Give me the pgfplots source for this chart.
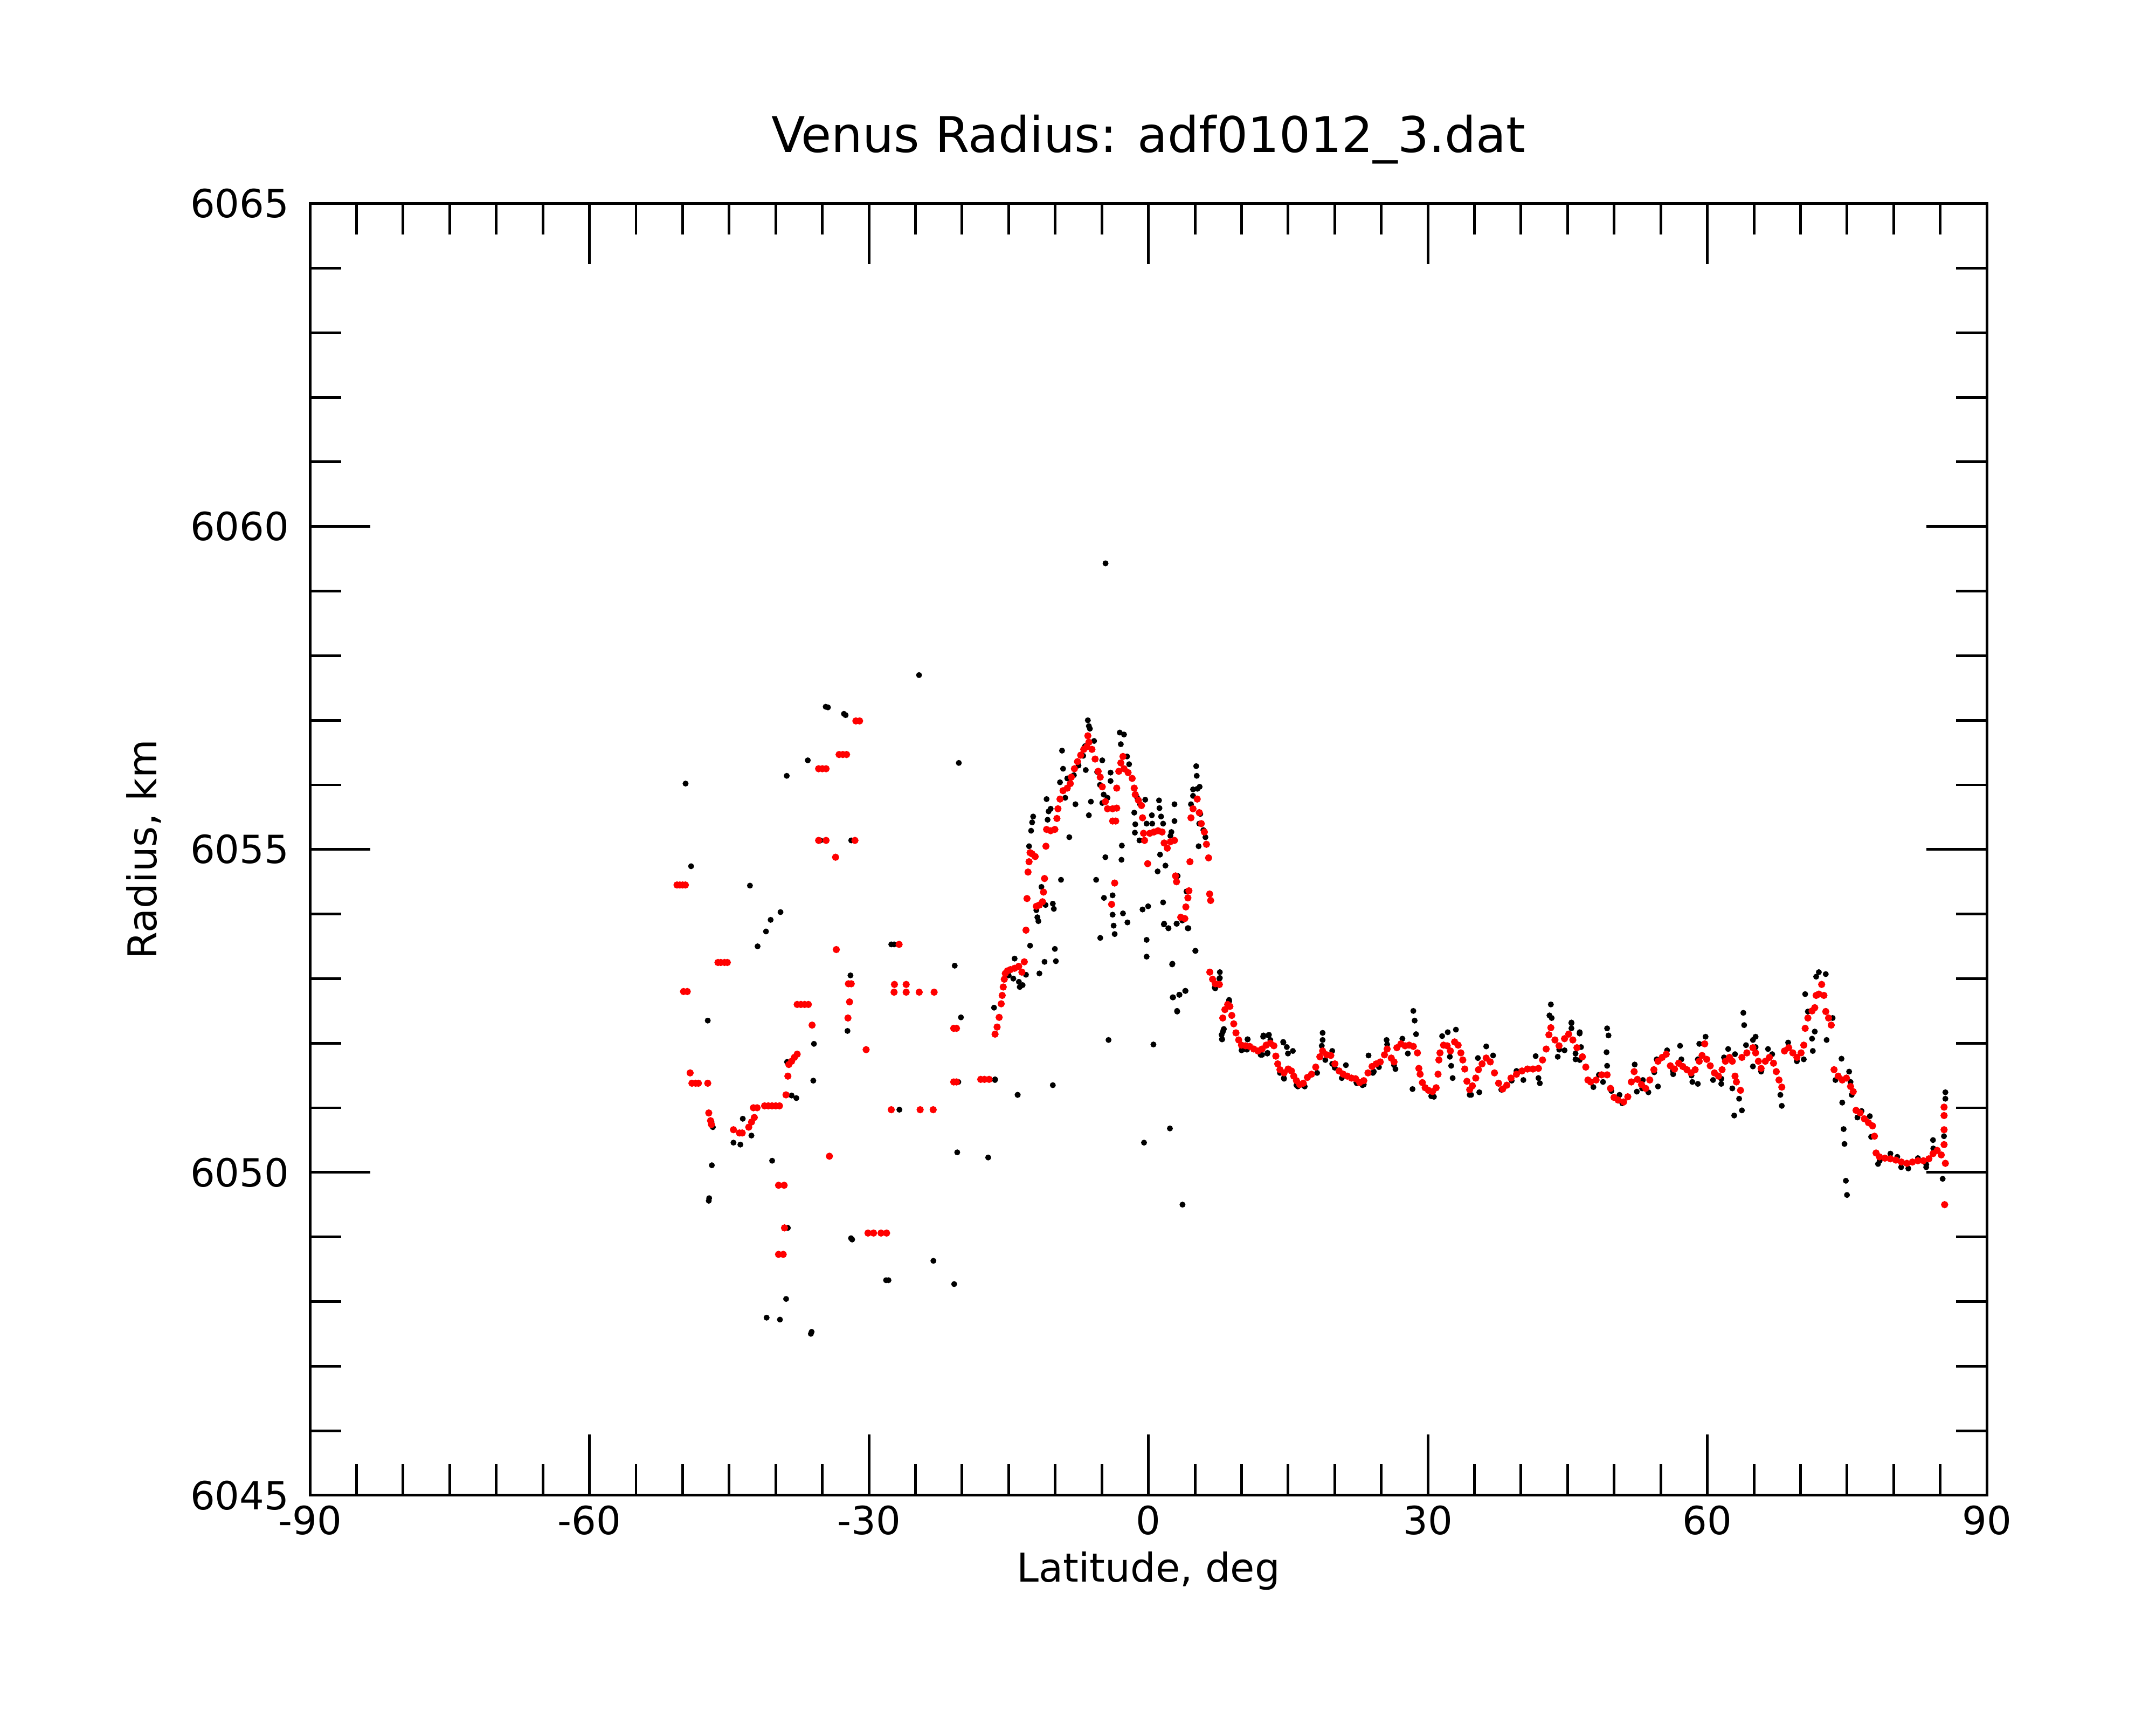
\documentclass[border=0pt]{standalone}
\usepackage{fontspec}
\setmainfont{DejaVu Sans}
\usepackage{pgfplots}
\pgfplotsset{compat=1.18}
\begin{document}
\begin{tikzpicture}
\begin{axis}[
  at={(103.9pt,77.0pt)}, anchor=south west,
  width=562.1pt, height=432.9pt, scale only axis,
  xmin=-90, xmax=90, ymin=6045, ymax=6065,
  xtick={-90,-60,-30,0,30,60,90},
  ytick={6045,6050,6055,6060,6065},
  minor x tick num=5, minor y tick num=4,
  tick align=inside, tick pos=both,
  major tick length=20.3pt, minor tick length=10.4pt,
  every tick/.style={black, line width=0.9pt},
  axis line style={line width=0.9pt},
  tick label style={font=\fontsize{13}{15}\selectfont},
  yticklabel style={xshift=-3.5pt},
  /pgf/number format/assume math mode=true,
  /pgf/number format/1000 sep={},
  title={Venus Radius: adf01012\_3.dat},
  every axis title/.style={at={(axis description cs:0.5,1.03996)}, anchor=base, inner sep=0pt, font=\fontsize{16.5}{19}\selectfont},
  xlabel={Latitude, deg},
  xlabel style={at={(axis description cs:0.5,-0.06722)}, anchor=base, inner sep=0pt, font=\fontsize{13.3}{16}\selectfont},
  ylabel={Radius, km},
  ylabel style={at={(axis description cs:-0.0916,0.5)}, anchor=base, rotate=0, inner sep=0pt, font=\fontsize{13.3}{16}\selectfont},
]
% black series
\addplot[color=black, only marks, mark=*, mark size=0.78pt, mark options={solid, draw=none, fill=black}] coordinates {
(-49.68,6056.02) (-49.09,6054.74) (-47.3,6052.35) (-46.86,6050.11) (-47.19,6049.56) (-47.15,6049.60)
(-46.9,6050.78) (-46.75,6050.70) (-44.54,6050.46) (-43.8,6050.43) (-43.54,6050.83) (-42.61,6050.57)
(-42.77,6054.44) (-41.95,6053.50) (-41.05,6053.73) (-40.55,6053.91) (-39.49,6054.03) (-40.39,6050.18)
(-40.98,6047.75) (-39.55,6047.72) (-38.89,6048.04) (-38.7,6049.14) (-38.79,6051.71) (-37.79,6051.15)
(-38.3,6051.19) (-35.9,6051.99) (-35.97,6051.42) (-38.82,6056.14) (-36.56,6056.38) (-36.23,6047.50)
(-36.15,6047.53) (-34.64,6057.21) (-34.4,6057.20) (-32.68,6057.10) (-32.5,6057.08) (-35.2,6055.14)
(-31.9,6055.14) (-31.98,6053.05) (-32.3,6052.19) (-31.92,6048.98) (-31.8,6048.96) (-27.6,6053.53)
(-27.3,6053.53) (-26.73,6050.97) (-28.16,6048.33) (-27.9,6048.33) (-23.08,6048.63) (-24.62,6057.70)
(-20.35,6056.34) (-20.79,6053.20) (-20.12,6052.40) (-20.52,6050.31) (-20.85,6048.27) (-20.4,6051.40)
(-17.2,6050.23) (-16.47,6051.43) (-14.04,6051.20)
(-6.5,6057.0) (-6.39,6056.91) (-6.28,6056.87) (-5.83,6056.68) (-9.27,6056.53) (-3.07,6056.81)
(-2.62,6056.78) (-2.96,6056.63) (-2.29,6056.44) (-4.95,6056.38) (-4.06,6056.19) (-4.06,6056.06)
(-2.07,6056.32) (-9.16,6056.25) (-8.71,6056.10) (-9.49,6056.04) (-6.72,6056.23) (-7.83,6055.70)
(-6.17,6055.74) (-6.39,6055.53) (-4.95,6055.72) (-4.39,6055.80) (-8.93,6055.80) (-10.93,6055.78)
(-10.71,6055.59) (-10.82,6055.46) (-10.49,6055.63) (-12.37,6055.51) (-12.48,6055.42) (-12.59,6055.29)
(-12.81,6055.05) (-8.49,6055.19) (-5.61,6054.53) (-4.62,6054.88) (-2.85,6055.06) (-2.89,6054.84)
(-9.38,6054.53) (-11.48,6054.42) (-10.26,6054.16) (-10.15,6054.08) (-12.03,6054.06) (-11.92,6053.95)
(-11.81,6053.89) (-11.04,6054.14) (-12.7,6053.51) (-10.04,6053.46) (-9.93,6053.27) (-11.15,6053.26)
(-11.7,6053.08) (-14.36,6053.31) (-13.81,6052.87) (-13.14,6053.06) (-16.57,6052.55) (-14.03,6051.20)
(-10.26,6051.35) (-16.46,6051.44) (-5.17,6053.63) (-3.84,6053.99) (-3.73,6053.82) (-3.62,6053.69)
(-2.73,6054.01) (-2.25,6053.87) (-3.84,6054.29) (-4.77,6054.25) (-0.19,6053.60) (-0.19,6053.34)
(-0.63,6054.07) (-0.03,6054.12) (-4.28,6052.05) (0.54,6051.98) (1.69,6053.85) (2.14,6053.78)
(3.02,6053.85) (4.24,6053.78) (3.95,6052.81) (3.31,6052.75) (2.65,6052.71) (3.09,6052.49)
(2.58,6053.23) (5.06,6053.43) (0.99,6054.66) (1.25,6054.92) (1.83,6054.75) (3.14,6054.59)
(1.58,6054.18) (-0.19,6055.40) (-0.96,6055.14) (-1.45,6055.26) (-1.41,6055.39) (-1.52,6055.57)
(-0.34,6055.77) (0.37,6055.53) (0.41,6055.40) (1.14,6055.76) (1.19,6055.64) (1.36,6055.51)
(1.58,6055.40) (2.8,6055.70) (2.8,6055.44) (2.47,6055.27) (2.36,6055.21) (5.13,6056.29)
(5.19,6056.14) (4.79,6055.93) (5.26,6055.94) (4.79,6055.83) (4.57,6055.70) (5.5,6055.97)
(5.57,6055.55) (5.46,6055.40) (5.9,6055.30) (6.12,6055.19) (5.39,6055.05) (4.09,6054.35)
(4.29,6053.78) (7.12,6052.86) (7.67,6053.10) (7.67,6053.01) (7.89,6052.06) (8.0,6052.18)
(8.1,6052.22) (8.67,6052.65) (10.66,6052.06) (12.32,6052.10) (12.88,6052.12) (12.77,6051.84)
(14.49,6052.01) (14.54,6051.46) (14.98,6051.84)
(-15.0,6053.05) (-14.5,6053.0) (-13.9,6052.95) (-13.5,6052.9)
(-8.0,6056.15) (-7.5,6056.3) (-7.0,6056.45) (-6.8,6056.6) (-5.5,6056.2) (-5.2,6056.0) (-4.8,6055.85)
(-1.2,6055.8) (-0.9,6055.7)
(-4.60,6059.43) (-0.47,6050.46) (3.66,6049.50)
(1.66,6053.84) (2.16,6053.78) (3.05,6053.85) (3.64,6053.90) (4.23,6053.78) (5.03,6053.43)
(2.55,6053.22) (2.61,6052.71) (3.34,6052.75) (3.99,6052.81) (3.08,6052.50) (2.31,6050.68)
(7.62,6053.00) (7.62,6052.90) (7.18,6052.85) (8.07,6052.21) (7.86,6052.13) (7.92,6052.06)
(8.66,6052.67) (10.28,6051.91) (10.64,6052.06) (12.35,6052.12) (12.94,6052.13) (13.09,6052.05)
(12.79,6051.85) (12.05,6051.82) (14.47,6052.02) (14.86,6051.94) (15.51,6051.88) (14.56,6051.45)
(14.12,6051.54) (15.89,6051.35) (16.63,6051.35) (18.11,6051.54) (18.7,6052.16) (18.7,6052.05)
(18.61,6051.96) (18.99,6051.74) (19.73,6051.88) (19.73,6051.68) (21.2,6051.66) (20.76,6051.46)
(22.33,6051.39) (22.98,6051.35) (23.63,6051.81) (24.1,6051.54) (24.75,6051.63) (25.57,6052.05)
(25.63,6051.98) (26.52,6051.60) (27.26,6052.07) (27.85,6051.84) (28.44,6052.50) (28.58,6052.35)
(28.73,6052.14) (28.35,6051.29) (30.65,6051.17) (31.53,6052.11) (32.13,6052.17) (33.01,6052.21)
(32.36,6051.79) (32.66,6051.46) (32.5,6051.65) (34.64,6051.20) (35.52,6051.24) (35.37,6051.77)
(36.26,6051.95) (37.0,6051.81) (39.51,6051.57) (40.25,6051.43) (41.57,6051.80) (42.02,6051.38)
(43.2,6052.60) (43.29,6052.39) (43.05,6052.43) (43.94,6051.79) (44.67,6051.89) (45.41,6052.31)
(46.3,6052.17) (45.85,6051.84) (46.3,6051.74)
(10.0,6051.89) (10.58,6051.90) (12.2,6051.82) (16.04,6051.33) (16.78,6051.33) (20.0,6051.62)
(22.38,6051.38) (23.12,6051.36) (24.2,6051.56) (26.37,6051.66) (30.36,6051.18) (34.49,6051.20)
(37.88,6051.28) (39.0,6051.42) (41.87,6051.46) (44.1,6051.90)
(45.41,6052.32) (45.41,6052.23) (46.29,6052.15) (45.85,6051.75) (46.44,6051.94) (47.77,6051.32)
(48.36,6051.51) (48.8,6051.40) (49.24,6052.23) (49.39,6052.12) (49.18,6051.86) (49.24,6051.65)
(50.57,6051.20) (50.87,6051.07) (52.2,6051.67) (52.43,6051.25) (53.08,6051.43) (53.67,6051.24)
(54.56,6051.75) (54.7,6051.33) (55.68,6051.89) (56.33,6051.52) (57.07,6051.96) (57.21,6051.75)
(58.39,6051.40) (58.98,6051.37) (59.13,6051.99) (59.81,6052.10) (58.98,6051.75) (60.61,6051.43)
(61.49,6051.37) (61.79,6051.78) (62.23,6051.91) (62.97,6051.83) (62.68,6051.30) (63.41,6051.14)
(63.71,6050.96) (62.88,6050.88) (63.86,6052.47) (63.95,6052.28) (64.15,6051.97) (64.89,6052.05)
(65.18,6052.10) (65.18,6051.94) (64.89,6051.64) (65.77,6051.56) (66.51,6051.91) (66.96,6051.83)
(67.84,6051.20) (67.99,6051.03) (68.67,6052.01) (69.61,6051.72) (70.35,6051.75) (70.5,6052.76)
(70.79,6052.49) (71.24,6052.07) (71.32,6051.88) (71.53,6052.18) (71.68,6053.03) (71.97,6053.10)
(72.71,6053.07) (72.71,6052.50) (73.45,6052.39) (72.8,6052.05) (74.4,6051.76) (73.75,6051.43)
(75.22,6051.56) (75.37,6051.40) (74.48,6051.08) (74.63,6050.67) (74.72,6050.44) (74.87,6049.87)
(74.99,6049.65) (76.11,6050.85) (76.55,6050.95) (77.44,6050.87) (77.58,6050.55) (78.32,6050.13)
(79.65,6050.29) (80.39,6050.24) (81.57,6050.06) (82.6,6050.22) (83.49,6050.08) (84.22,6050.50)
(84.25,6050.37) (85.26,6049.90) (85.55,6051.24) (85.55,6051.14) (85.4,6050.56)
(49.7,6051.26) (53.0,6051.30) (54.3,6051.55) (56.3,6051.57) (58.3,6051.50) (61.5,6051.45)
(65.8,6051.58) (69.6,6051.74) (75.5,6051.20) (78.5,6050.18) (80.8,6050.08) (83.5,6050.12)
};
% red series
\addplot[color=red, only marks, mark=*, mark size=1.0pt, mark options={solid, draw=none, fill=red}] coordinates {
(-50.6,6054.45) (-50.3,6054.45) (-50.0,6054.45) (-49.7,6054.45) (-49.9,6052.80) (-49.5,6052.80)
(-49.19,6051.54) (-49.0,6051.38) (-48.6,6051.38) (-48.3,6051.38) (-47.3,6051.38) (-47.19,6050.92)
(-47.0,6050.80) (-46.9,6050.74) (-46.2,6053.25) (-45.9,6053.25) (-45.5,6053.25) (-45.2,6053.25)
(-44.54,6050.66) (-43.9,6050.61) (-43.6,6050.61) (-42.9,6050.70) (-42.6,6050.78) (-42.3,6050.85)
(-42.4,6051.0) (-42.0,6051.0) (-41.2,6051.03) (-40.8,6051.03) (-40.4,6051.03) (-40.0,6051.03)
(-39.6,6051.03) (-39.7,6049.80) (-39.1,6049.80) (-39.06,6049.14) (-39.7,6048.73) (-39.2,6048.73)
(-38.9,6051.2) (-38.7,6051.49) (-38.6,6051.67) (-38.3,6051.72) (-38.0,6051.78) (-37.7,6051.83)
(-37.7,6052.6) (-37.3,6052.6) (-36.9,6052.6) (-36.5,6052.6) (-36.1,6052.28) (-35.4,6056.25)
(-35.0,6056.25) (-34.6,6056.25) (-35.4,6055.14) (-34.6,6055.14) (-34.24,6050.25) (-33.58,6054.88)
(-33.5,6053.45) (-33.2,6056.47) (-32.8,6056.47) (-32.4,6056.47) (-32.2,6052.92) (-31.9,6052.92)
(-32.08,6052.64) (-32.25,6052.39) (-31.5,6055.14) (-31.4,6056.99) (-31.0,6056.99) (-30.3,6051.90)
(-30.1,6049.06) (-29.5,6049.06) (-28.7,6049.06) (-28.1,6049.06) (-26.76,6053.53) (-27.26,6052.91)
(-26.0,6052.91) (-27.3,6052.79) (-26.0,6052.79) (-24.6,6052.79) (-23.0,6052.79) (-27.6,6050.97)
(-24.5,6050.97) (-23.1,6050.97) (-20.9,6052.23) (-20.6,6052.23) (-20.9,6051.40) (-20.6,6051.40)
(-18.0,6051.44) (-17.6,6051.44) (-17.1,6051.44)
(-16.46,6052.14) (-16.24,6052.25) (-16.02,6052.40) (-15.8,6052.61) (-15.69,6052.74) (-15.58,6052.87)
(-15.47,6052.99) (-15.36,6053.08) (-15.13,6053.12) (-14.8,6053.14) (-14.36,6053.16) (-13.92,6053.19)
(-13.58,6053.10) (-13.32,6053.26) (-13.14,6053.75) (-13.03,6054.24) (-12.92,6054.65) (-12.81,6054.81)
(-12.7,6054.95) (-12.48,6054.93) (-12.15,6054.89) (-12.03,6054.12) (-11.7,6054.14) (-11.37,6054.19)
(-11.26,6054.34) (-11.15,6054.55) (-11.0,6055.05) (-10.93,6055.31) (-10.49,6055.29) (-10.04,6055.31)
(-9.82,6055.48) (-9.71,6055.63) (-9.49,6055.78) (-9.16,6055.91) (-8.71,6055.95) (-8.38,6056.02)
(-8.27,6056.12) (-7.94,6056.25) (-7.61,6056.36) (-7.27,6056.46) (-6.94,6056.55) (-6.61,6056.59)
(-6.39,6056.66) (-6.5,6056.76) (-6.06,6056.55) (-5.72,6056.40) (-5.39,6056.21) (-5.17,6056.12)
(-4.95,6055.97) (-4.62,6055.74) (-4.39,6055.63) (-3.84,6055.63) (-3.4,6055.64) (-3.84,6055.44)
(-3.51,6055.44) (-3.4,6055.95) (-3.62,6054.48) (-3.95,6054.15) (-3.18,6056.21) (-2.96,6056.34)
(-2.73,6056.44) (-2.62,6056.25) (-2.18,6056.19) (-1.74,6056.10) (-1.52,6055.95) (-1.41,6055.85)
(-1.07,6055.76) (-0.74,6055.68) (-0.63,6055.49) (-0.52,6055.25) (-0.41,6055.14) (-0.08,6054.78)
(0.15,6055.25) (0.59,6055.27) (1.03,6055.29) (1.47,6055.27) (1.69,6055.10) (2.03,6055.02)
(2.36,6055.12) (2.8,6055.14) (2.91,6054.59) (3.02,6054.50) (3.47,6053.95) (3.91,6053.93)
(4.02,6054.11) (4.24,6054.25) (4.35,6054.36) (4.46,6054.81) (4.57,6055.49) (4.79,6055.63)
(5.24,6055.78) (5.46,6055.57) (5.68,6055.40) (6.01,6055.27) (6.23,6055.08) (6.46,6054.87)
(6.57,6054.31) (6.68,6054.21)
(6.59,6053.10) (6.89,6052.99) (7.18,6052.92) (7.62,6052.91) (7.98,6052.39) (8.21,6052.52)
(8.51,6052.60) (8.75,6052.57) (8.95,6052.43) (9.16,6052.30) (9.40,6052.16) (9.69,6052.05)
(9.99,6051.97) (10.43,6051.96) (10.87,6051.95) (11.31,6051.91) (11.76,6051.88) (12.20,6051.91)
(12.64,6051.97) (13.09,6052.00) (13.47,6051.96) (13.68,6051.80) (13.88,6051.68) (14.12,6051.59)
(14.56,6051.54) (15.00,6051.60) (15.36,6051.57) (15.60,6051.49) (15.89,6051.42) (16.24,6051.36)
(16.63,6051.38) (17.07,6051.47) (17.51,6051.52) (17.96,6051.63) (18.40,6051.79) (18.70,6051.88)
(19.14,6051.82) (19.58,6051.81) (20.02,6051.68) (20.47,6051.57) (20.91,6051.52) (21.35,6051.49)
(21.80,6051.46) (22.24,6051.45) (22.68,6051.39) (23.12,6051.42) (23.57,6051.54) (24.01,6051.64)
(24.45,6051.68) (24.89,6051.71) (25.34,6051.82) (25.63,6051.91) (26.07,6051.77) (26.37,6051.71)
(26.67,6051.93) (27.11,6051.99) (27.55,6051.96) (27.99,6051.97) (28.44,6051.95) (28.88,6051.85)
(29.03,6051.61) (29.17,6051.52) (29.41,6051.39) (29.71,6051.31) (30.06,6051.27) (30.50,6051.25)
(30.89,6051.31) (31.09,6051.52) (31.18,6051.74) (31.30,6051.85) (31.68,6051.97) (32.07,6051.96)
(32.42,6051.88) (32.87,6052.02) (33.25,6051.97) (33.54,6051.85) (33.75,6051.74) (33.96,6051.60)
(34.19,6051.41) (34.49,6051.28) (34.78,6051.34) (35.14,6051.46) (35.43,6051.59) (35.82,6051.68)
(36.26,6051.77) (36.70,6051.71) (37.15,6051.54) (37.59,6051.38) (38.03,6051.29) (38.47,6051.35)
(38.92,6051.46) (39.51,6051.52) (40.10,6051.57) (40.69,6051.60) (41.28,6051.60) (41.87,6051.61)
(42.31,6051.74) (42.70,6051.91) (42.99,6052.13) (43.20,6052.24) (43.64,6052.05) (44.08,6051.96)
(44.67,6052.07) (45.11,6052.14) (45.56,6052.05) (46.00,6051.93) (46.59,6051.79) (46.95,6051.63)
(47.18,6051.43)
(47.47,6051.40) (48.06,6051.43) (48.65,6051.51) (49.24,6051.51) (49.60,6051.30) (49.98,6051.16)
(50.42,6051.12) (51.01,6051.09) (51.46,6051.17) (51.84,6051.40) (52.14,6051.56) (52.49,6051.44)
(52.93,6051.36) (53.38,6051.30) (53.82,6051.43) (54.26,6051.59) (54.70,6051.72) (55.15,6051.78)
(55.59,6051.83) (56.03,6051.65) (56.48,6051.60) (56.92,6051.69) (57.36,6051.64) (57.80,6051.59)
(58.25,6051.54) (58.69,6051.59) (59.13,6051.72) (59.43,6051.81) (59.72,6051.99) (59.93,6051.75)
(60.31,6051.65) (60.76,6051.54) (61.20,6051.49) (61.58,6051.59) (61.94,6051.72) (62.38,6051.78)
(62.68,6051.72) (62.97,6051.49) (63.12,6051.40) (63.56,6051.27) (63.71,6051.78) (64.24,6051.85)
(64.89,6051.93) (65.18,6051.85) (65.48,6051.72) (65.77,6051.61) (66.22,6051.72) (66.66,6051.78)
(67.10,6051.69) (67.40,6051.56) (67.69,6051.43) (67.99,6051.32) (68.28,6051.88) (68.73,6051.93)
(69.17,6051.85) (69.61,6051.78) (70.06,6051.85) (70.35,6051.97) (70.50,6052.23) (70.79,6052.39)
(71.24,6052.50) (71.53,6052.55) (71.68,6052.74) (71.97,6052.76) (72.27,6052.91) (72.51,6052.74)
(72.71,6052.49) (73.01,6052.39) (73.30,6052.28) (73.60,6051.59) (74.04,6051.49) (74.48,6051.43)
(74.93,6051.46) (75.37,6051.33) (75.66,6051.25) (75.96,6050.96) (76.40,6050.92) (76.85,6050.83)
(77.29,6050.77) (77.73,6050.72) (77.94,6050.56) (78.11,6050.30) (78.47,6050.24) (79.06,6050.22)
(79.65,6050.21) (80.24,6050.19) (80.83,6050.16) (81.42,6050.14) (82.01,6050.16) (82.60,6050.18)
(83.19,6050.18) (83.78,6050.21) (84.23,6050.29) (84.67,6050.34) (85.11,6050.27) (85.55,6050.14)
(85.41,6051.01) (85.41,6050.88) (85.41,6050.66) (85.41,6050.43) (85.47,6049.50)
};
\end{axis}
\pgfresetboundingbox
\path[use as bounding box] (0,0) rectangle (722.7pt,578.16pt);
\end{tikzpicture}
\end{document}
